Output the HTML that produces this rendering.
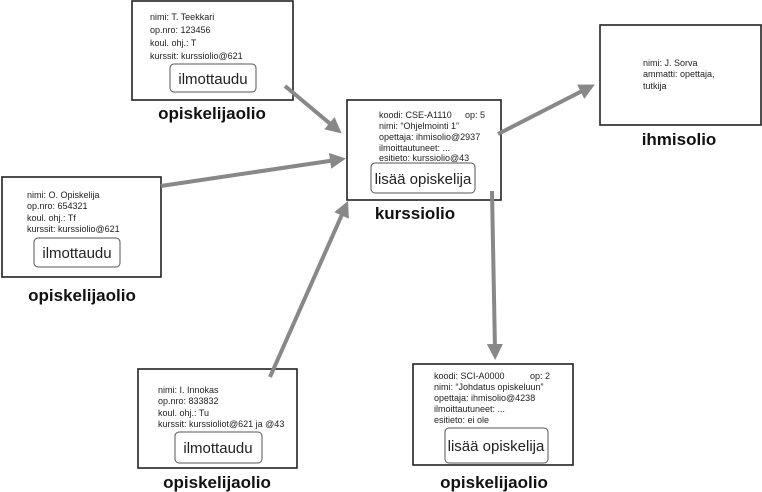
<!DOCTYPE html>
<html><head><meta charset="utf-8"><style>
html,body{margin:0;padding:0;background:#fff;}
svg{display:block;font-family:"Liberation Sans",sans-serif;}
.t{font-size:9px;fill:#222;}
.b{font-size:15px;fill:#222;}
.l{font-size:17px;font-weight:bold;fill:#111;text-anchor:middle;}
.box{fill:#fff;stroke:#222;stroke-width:1.6;}
.btn{fill:#fff;stroke:#555;stroke-width:1;}
.a{stroke:#888;stroke-width:4;fill:none;}
.h{fill:#888;}
</style></head><body>
<svg width="762" height="492" viewBox="0 0 762 492">
<defs><marker id="m" markerWidth="4" markerHeight="4" refX="1.5" refY="2" orient="auto" markerUnits="strokeWidth"><path d="M0,0 L4,2 L0,4 z" class="h"/></marker></defs>

<rect class="box" x="132" y="1" width="161" height="99"/>
<text class="t" x="150" y="20">nimi: T. Teekkari</text>
<text class="t" x="150" y="33">op.nro: 123456</text>
<text class="t" x="150" y="46">koul. ohj.: T</text>
<text class="t" x="150" y="59">kurssit: kurssiolio@621</text>
<rect class="btn" x="170" y="64" width="86" height="28" rx="4"/>
<text class="b" x="213" y="84" text-anchor="middle">ilmottaudu</text>
<text class="l" x="212" y="119">opiskelijaolio</text>

<rect class="box" x="347" y="100" width="154" height="100"/>
<text class="t" x="379" y="118">koodi:  CSE-A1110</text>
<text class="t" x="465" y="118">op: 5</text>
<text class="t" x="379" y="129">nimi: “Ohjelmointi 1”</text>
<text class="t" x="379" y="140">opettaja: ihmisolio@2937</text>
<text class="t" x="379" y="151">ilmoittautuneet: ...</text>
<text class="t" x="379" y="161">esitieto: kurssiolio@43</text>
<rect class="btn" x="371" y="163" width="104" height="30" rx="4"/>
<text class="b" x="423" y="184" text-anchor="middle">lisää opiskelija</text>
<text class="l" x="415" y="219">kurssiolio</text>

<rect class="box" x="2" y="177" width="159" height="100"/>
<text class="t" x="27" y="198">nimi: O. Opiskelija</text>
<text class="t" x="27" y="209">op.nro: 654321</text>
<text class="t" x="27" y="221">koul. ohj.: Tf</text>
<text class="t" x="27" y="232">kurssit: kurssiolio@621</text>
<rect class="btn" x="34" y="238" width="86" height="29" rx="4"/>
<text class="b" x="77" y="258" text-anchor="middle">ilmottaudu</text>
<text class="l" x="82" y="301">opiskelijaolio</text>

<rect class="box" x="138" y="369" width="159" height="99"/>
<text class="t" x="158" y="393">nimi:  I. Innokas</text>
<text class="t" x="158" y="404">op.nro: 833832</text>
<text class="t" x="158" y="416">koul. ohj.: Tu</text>
<text class="t" x="158" y="427">kurssit: kurssioliot@621 ja @43</text>
<rect class="btn" x="175" y="432" width="87" height="31" rx="4"/>
<text class="b" x="218" y="453" text-anchor="middle">ilmottaudu</text>
<text class="l" x="217" y="488">opiskelijaolio</text>

<rect class="box" x="600" y="25" width="161" height="100"/>
<text class="t" x="643" y="66">nimi: J. Sorva</text>
<text class="t" x="643" y="77">ammatti: opettaja,</text>
<text class="t" x="643" y="89">tutkija</text>
<text class="l" x="679" y="145">ihmisolio</text>

<rect class="box" x="413" y="364" width="160" height="101"/>
<text class="t" x="434" y="379">koodi:  SCI-A0000</text>
<text class="t" x="530" y="379">op: 2</text>
<text class="t" x="434" y="390">nimi: “Johdatus opiskeluun”</text>
<text class="t" x="434" y="401">opettaja: ihmisolio@4238</text>
<text class="t" x="434" y="412">ilmoittautuneet: ...</text>
<text class="t" x="434" y="423">esitieto: ei ole</text>
<rect class="btn" x="445" y="428" width="103" height="35" rx="4"/>
<text class="b" x="496" y="451" text-anchor="middle">lisää opiskelija</text>
<text class="l" x="494" y="488">opiskelijaolio</text>

<line class="a" x1="285" y1="86" x2="334" y2="127" marker-end="url(#m)"/>
<line class="a" x1="161" y1="186" x2="336" y2="160" marker-end="url(#m)"/>
<line class="a" x1="270" y1="377" x2="344" y2="210" marker-end="url(#m)"/>
<line class="a" x1="498" y1="134" x2="586" y2="89" marker-end="url(#m)"/>
<line class="a" x1="492" y1="191" x2="495" y2="350" marker-end="url(#m)"/>
</svg>
</body></html>
